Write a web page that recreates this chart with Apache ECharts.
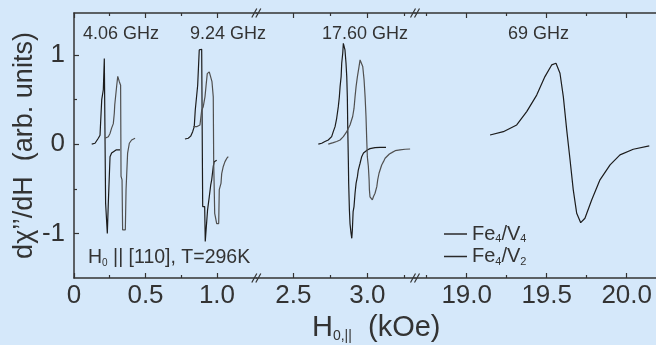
<!DOCTYPE html>
<html>
<head>
<meta charset="utf-8">
<script src="https://cdn.jsdelivr.net/npm/echarts@6/dist/echarts.min.js"></script>
<style>
  html, body { margin: 0; padding: 0; background: #D5E8FA; }
  #chart { width: 656px; height: 345px; }
</style>
</head>
<body>
<div id="chart"></div>
<script>
// ---- field (kOe) and derivative signal (arb. units) per frequency ----
const H_406_V4 = [0.124,0.147,0.159,0.170,0.182,0.187,0.194,0.201,0.205,0.212,0.219,0.221,0.228,0.233,0.235,0.240,0.247,0.252,0.263,0.275,0.294,0.322];
const S_406_V4 = [0.0,0.01,0.03,0.066,0.10,0.27,0.50,0.51,0.61,0.96,0.98,-0.66,-0.66,-1.0,-1.0,-0.66,-0.64,-0.14,-0.10,-0.084,-0.065,-0.065];
const H_406_V2 = [0.217,0.240,0.252,0.263,0.275,0.282,0.285,0.299,0.306,0.312,0.317,0.326,0.329,0.336,0.340,0.359,0.364,0.371,0.375,0.387,0.403,0.427];
const S_406_V2 = [0.066,0.084,0.12,0.18,0.23,0.35,0.44,0.66,0.76,0.78,0.70,0.66,-0.36,-0.40,-0.96,-0.96,-0.51,-0.51,-0.10,0.01,0.047,0.066];

const H_924_V4 = [0.776,0.799,0.816,0.830,0.841,0.848,0.858,0.865,0.872,0.876,0.893,0.900,0.914,0.918,0.927,0.934,0.941,0.946,0.956,0.963,0.974,0.981,0.998];
const S_924_V4 = [0.058,0.066,0.09,0.14,0.196,0.38,0.40,0.66,0.68,1.056,1.064,-0.70,-0.70,-1.09,-1.07,-0.74,-0.74,-0.59,-0.46,-0.40,-0.25,-0.196,-0.18];
const H_924_V2 = [0.834,0.858,0.881,0.893,0.904,0.916,0.923,0.932,0.946,0.958,0.965,0.974,0.977,0.984,0.993,0.998,1.012,1.016,1.028,1.033,1.044,1.056,1.068,1.079];
const S_924_V2 = [0.196,0.196,0.215,0.38,0.42,0.53,0.645,0.79,0.81,0.81,0.70,0.53,-0.196,-0.775,-0.79,-0.89,-0.89,-0.51,-0.44,-0.33,-0.25,-0.196,-0.16,-0.14];

const H_1760_V4 = [2.669,2.692,2.714,2.736,2.759,2.770,2.782,2.793,2.804,2.811,2.816,2.823,2.827,2.834,2.838,2.845,2.849,2.856,2.861,2.865,2.868,2.872,2.874,2.879,2.883,2.890,2.895,2.899,2.904,2.910,2.917,2.924,2.933,2.939,2.951,2.962,2.974,2.985,3.000,3.018,3.052,3.086,3.126];
const S_1760_V4 = [0.0,0.01,0.03,0.047,0.084,0.14,0.196,0.29,0.42,0.53,0.645,0.757,0.907,1.02,1.13,1.13,1.056,0.907,0.757,0.53,0.16,-0.21,-0.44,-0.74,-0.89,-1.0,-1.055,-0.96,-0.757,-0.70,-0.55,-0.44,-0.364,-0.29,-0.214,-0.14,-0.10,-0.084,-0.065,-0.05,-0.039,-0.035,-0.035];
const H_1760_V2 = [2.736,2.770,2.793,2.816,2.838,2.861,2.872,2.883,2.901,2.910,2.917,2.924,2.933,2.944,2.951,2.962,2.969,2.978,2.985,2.991,2.996,3.000,3.007,3.012,3.014,3.018,3.023,3.034,3.041,3.052,3.064,3.070,3.079,3.086,3.097,3.109,3.120,3.131,3.149,3.165,3.188,3.221,3.255,3.289];
const S_1760_V2 = [0.0,0.017,0.03,0.047,0.084,0.14,0.18,0.215,0.31,0.40,0.53,0.645,0.757,0.87,0.944,0.936,0.87,0.72,0.53,0.31,0.047,-0.14,-0.25,-0.40,-0.51,-0.59,-0.61,-0.625,-0.59,-0.55,-0.476,-0.40,-0.326,-0.29,-0.233,-0.196,-0.158,-0.14,-0.11,-0.095,-0.073,-0.065,-0.057,-0.054];

const H_69_V4 = [19.146,19.229,19.3125,19.375,19.4375,19.489,19.531,19.541,19.558,19.583,19.604,19.625,19.646,19.666,19.6875,19.7125,19.739,19.781,19.833,19.896,19.958,20.041,20.141];
const S_69_V4 = [0.103,0.14,0.215,0.365,0.55,0.757,0.888,0.907,0.907,0.795,0.53,0.16,-0.177,-0.513,-0.775,-0.88,-0.83,-0.625,-0.40,-0.233,-0.12,-0.057,-0.02];

// ---- tick values ----
const xMajor = [[0, 0.5, 1.0], [2.5, 3.0], [19.0, 19.5, 20.0]];
const xMinor = [[0.25, 0.75], [2.75, 3.25], [18.75, 19.25, 19.75]];
const yMajor = [-1, 0, 1];
const yMinor = [-0.5, 0.5];

// ---- texts ----
const freqLabels = ['4.06 GHz', '9.24 GHz', '17.60 GHz', '69 GHz'];
const seriesNames = ['Fe4/V4', 'Fe4/V2'];

// ---- styling / layout ----
const FONT = "'Liberation Sans', Arial, sans-serif";
const INK = '#333333';
const C_V4 = '#1c1c1c';
const C_V2 = '#505050';
const TOP = 13, HEIGHT = 265;
const Y_MIN = -1.5, Y_MAX = 1.47;
const panels = [
  { left: 74,    width: 182.3, min: 0,      max: 1.275 },
  { left: 256.3, width: 158.7, min: 2.25,   max: 3.322 },
  { left: 415,   width: 241,   min: 18.677, max: 20.183 }
];

const fmtX = v => (v === 0 ? '0' : v.toFixed(1));

const grid = panels.map(p => ({ left: p.left, top: TOP, width: p.width, height: HEIGHT, containLabel: false }));

const xAxis = [];
panels.forEach((p, g) => {
  [['bottom', xMajor[g], 5, true, true], ['bottom', xMinor[g], 3, false, false],
   ['top', xMajor[g], 5, false, true], ['top', xMinor[g], 3, false, false]].forEach(([pos, vals, len, lab, line]) => {
    xAxis.push({
      type: 'value', gridIndex: g, position: pos, min: p.min, max: p.max,
      axisLine: { show: line, onZero: false, lineStyle: { color: INK, width: 1.5 } },
      axisTick: { show: true, inside: true, length: len, customValues: vals, lineStyle: { color: INK, width: 1.2 } },
      axisLabel: { show: lab, customValues: vals, formatter: fmtX, color: INK, fontFamily: FONT, fontSize: 26, margin: 5 },
      splitLine: { show: false }
    });
  });
});

const yAxis = [
  {
    type: 'value', gridIndex: 0, position: 'left', min: Y_MIN, max: Y_MAX,
    axisLine: { show: true, onZero: false, lineStyle: { color: INK, width: 1.5 } },
    axisTick: { show: true, inside: true, length: 5, customValues: yMajor, lineStyle: { color: INK, width: 1.2 } },
    axisLabel: { customValues: yMajor, color: INK, fontFamily: FONT, fontSize: 26, margin: 9 },
    splitLine: { show: false },
    name: 'd\u03c7\u2019\u2019/dH  (arb. units)', nameLocation: 'middle', nameGap: 35,
    nameTextStyle: { color: INK, fontFamily: FONT, fontSize: 27 }
  },
  {
    type: 'value', gridIndex: 0, position: 'left', min: Y_MIN, max: Y_MAX,
    axisLine: { show: false, onZero: false },
    axisTick: { show: true, inside: true, length: 3, customValues: yMinor, lineStyle: { color: INK, width: 1.2 } },
    axisLabel: { show: false }, splitLine: { show: false }
  },
  { type: 'value', gridIndex: 1, min: Y_MIN, max: Y_MAX, show: false },
  { type: 'value', gridIndex: 2, min: Y_MIN, max: Y_MAX, show: false }
];

const zip = (xs, ys) => xs.map((x, i) => [x, ys[i]]);
function curve(name, color, g, xs, ys) {
  return {
    type: 'line', name, xAxisIndex: g * 4, yAxisIndex: g === 0 ? 0 : g + 1,
    data: zip(xs, ys), symbol: 'none', showSymbol: false, smooth: false,
    lineStyle: { color, width: 1.2 }, itemStyle: { color }, z: 3
  };
}
const series = [
  curve(seriesNames[0], C_V4, 0, H_406_V4, S_406_V4),
  curve(seriesNames[1], C_V2, 0, H_406_V2, S_406_V2),
  curve(seriesNames[0], C_V4, 0, H_924_V4, S_924_V4),
  curve(seriesNames[1], C_V2, 0, H_924_V2, S_924_V2),
  curve(seriesNames[0], C_V4, 1, H_1760_V4, S_1760_V4),
  curve(seriesNames[1], C_V2, 1, H_1760_V2, S_1760_V2),
  curve(seriesNames[0], C_V4, 2, H_69_V4, S_69_V4)
];

// axis-break marks "//" on top and bottom axes at the panel joints
const breaks = [];
[panels[1].left, panels[2].left].forEach(bx => {
  [TOP, TOP + HEIGHT].forEach(by => {
    [-4, 0].forEach(dx => {
      breaks.push({
        type: 'line', silent: true, z: 10,
        shape: { x1: bx + dx - 0.5, y1: by + 4.5, x2: bx + dx + 4.5, y2: by - 4.5 },
        style: { stroke: INK, lineWidth: 1.2 }
      });
    });
  });
});

const txt = (text, x, y, size, rich) => ({
  type: 'text', x, y, silent: true, z: 10,
  style: { text, fill: INK, fontSize: size, fontFamily: FONT,
           verticalAlign: 'middle', align: 'left', rich: rich || {} }
});

const subRich = (size, sub, off) => ({
  s: { fontSize: sub, fontFamily: FONT, fill: INK, padding: [off, 0, 0, 0] },
  n: { fontSize: size, fontFamily: FONT, fill: INK }
});

const graphic = [
  txt(freqLabels[0], 83, 34, 18),
  txt(freqLabels[1], 190, 34, 18),
  txt(freqLabels[2], 322, 34, 18),
  txt(freqLabels[3], 508, 34, 18),
  txt('{n|H}{s|0}{n| || [110], T=296K}', 88, 258, 19.5, subRich(19.5, 10, 11)),
  txt('{n|H}{s|0,||}{n|  (kOe)}', 312, 328, 29, subRich(29, 14, 16)),
  ...breaks
];

const chart = echarts.init(document.getElementById('chart'), null, { renderer: 'canvas' });
chart.setOption({
  backgroundColor: '#D5E8FA',
  animation: false,
  grid, xAxis, yAxis, series, graphic,
  legend: {
    orient: 'vertical', left: 439, top: 219, itemWidth: 23, itemHeight: 1.5, itemGap: 2,
    icon: 'rect',
    data: seriesNames.map(n => ({ name: n, itemStyle: { color: '#2a2a2a' } })),
    formatter: n => n === seriesNames[0] ? 'Fe{s|4}/V{s|4}' : 'Fe{s|4}/V{s|2}',
    textStyle: {
      color: INK, fontFamily: FONT, fontSize: 20,
      rich: { s: { fontSize: 11, fontFamily: FONT, color: INK, padding: [10, 0, 0, 0] } }
    }
  }
});
</script>
</body>
</html>
